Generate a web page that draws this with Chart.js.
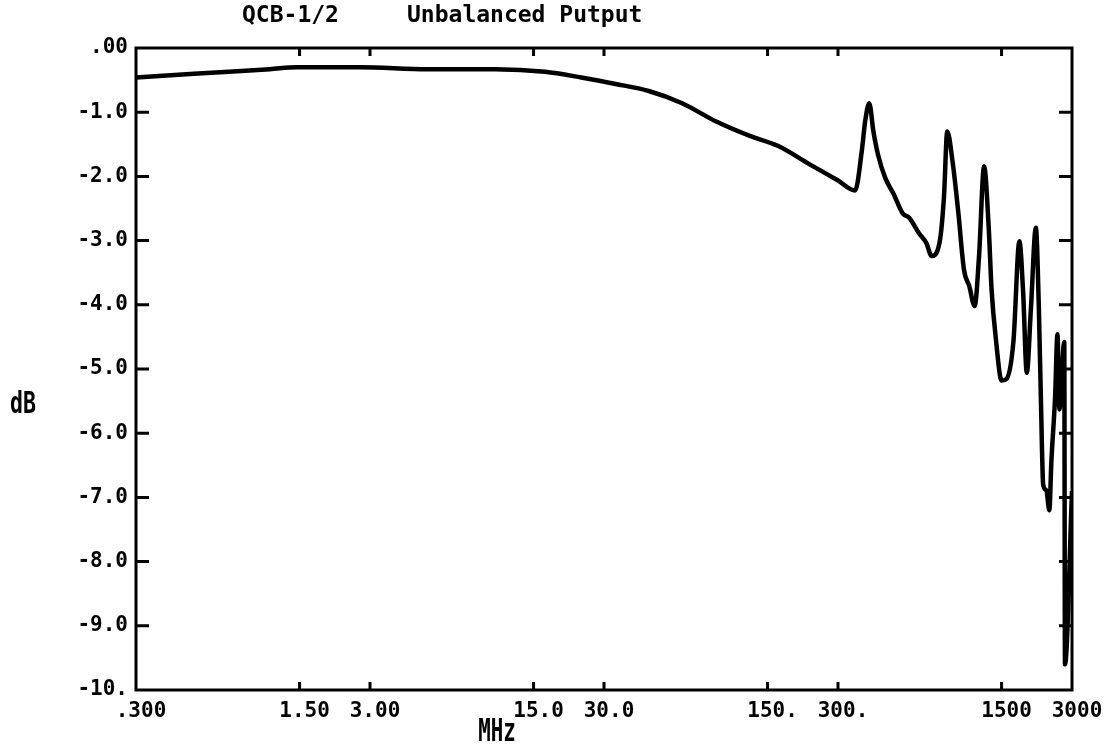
<!DOCTYPE html>
<html>
<head>
<meta charset="utf-8">
<title>QCB-1/2 Unbalanced Putput</title>
<script src="https://cdn.jsdelivr.net/npm/chart.js@4.4.1/dist/chart.umd.min.js"></script>
<style>
  html, body { margin: 0; padding: 0; background: #fff; }
  #wrap { width: 1115px; height: 746px; position: relative; }
</style>
</head>
<body>
<div id="wrap"><canvas id="chart"></canvas></div>
<script>
// swept response
const freqMHz = [0.3, 0.53, 1.12, 1.46, 2.72, 5.3, 10.3, 16.8, 24, 33.6, 46.6, 64.7, 91, 126, 165, 229, 299,
  355, 379, 392, 408, 425, 444, 477, 518, 568, 603, 667, 716, 754, 815, 851, 879, 927, 980,
  1036, 1092, 1151, 1202, 1263, 1323, 1359, 1422, 1500, 1578, 1686, 1788, 1854, 1923, 2003,
  2102, 2165, 2213, 2259, 2330, 2400, 2450, 2540, 2600, 2650, 2780, 2800, 3000];
const lossDb = [-0.46, -0.40, -0.33, -0.30, -0.30, -0.33, -0.33, -0.37, -0.46, -0.56, -0.67, -0.86, -1.15, -1.37, -1.52, -1.82, -2.06,
  -2.22, -1.61, -1.14, -0.86, -1.30, -1.65, -2.02, -2.27, -2.58, -2.64, -2.89, -3.04, -3.24, -3.03, -2.32, -1.30, -1.78, -2.56,
  -3.45, -3.71, -4.02, -3.24, -1.84, -2.82, -3.75, -4.57, -5.18, -5.15, -4.57, -3.01, -3.79, -5.06, -4.05,
  -2.80, -4.05, -5.60, -6.80, -6.89, -7.20, -6.43, -5.44, -4.46, -5.63, -4.58, -9.60, -6.90];

const xTickValues = [0.3, 1.5, 3, 15, 30, 150, 300, 1500, 3000];
const xTickLabels = ['.300', '1.50', '3.00', '15.0', '30.0', '150.', '300.', '1500', '3000'];
const yTickValues = [0, -1, -2, -3, -4, -5, -6, -7, -8, -9, -10];
const yTickLabels = ['.00', '-1.0', '-2.0', '-3.0', '-4.0', '-5.0', '-6.0', '-7.0', '-8.0', '-9.0', '-10.'];

const titleLeft = 'QCB-1/2';
const titleRight = 'Unbalanced Putput';
const xTitle = 'MHz';
const yTitle = 'dB';

const ink = '#000';
const mono = '"DejaVu Sans Mono", "Liberation Mono", monospace';

function plotText(ctx, text, x, y, size, sx, align) {
  ctx.save();
  ctx.translate(x, y);
  ctx.scale(sx, 1);
  ctx.font = 'bold ' + size + 'px ' + mono;
  ctx.fillStyle = ink;
  ctx.textAlign = align || 'left';
  ctx.textBaseline = 'alphabetic';
  ctx.fillText(text, 0, 0);
  ctx.restore();
}

// box frame, inward ticks and the loose plotter captions
const plotterFrame = {
  id: 'plotterFrame',
  afterDraw(chart) {
    const { ctx, chartArea: a, scales } = chart;
    ctx.save();
    ctx.strokeStyle = ink;
    ctx.lineWidth = 3;
    ctx.strokeRect(a.left, a.top, a.right - a.left, a.bottom - a.top);

    ctx.beginPath();
    xTickValues.forEach(v => {
      if (v === 0.3 || v === 3000) return;
      const px = scales.x.getPixelForValue(v);
      ctx.moveTo(px, a.bottom); ctx.lineTo(px, a.bottom - 8);
      ctx.moveTo(px, a.top); ctx.lineTo(px, a.top + 8);
    });
    yTickValues.forEach(v => {
      if (v === 0 || v === -10) return;
      const py = scales.y.getPixelForValue(v);
      ctx.moveTo(a.left, py); ctx.lineTo(a.left + 13, py);
      ctx.moveTo(a.right, py); ctx.lineTo(a.right - 13, py);
    });
    ctx.stroke();
    ctx.restore();

    plotText(ctx, titleLeft, 242, 22, 23, 1);
    plotText(ctx, titleRight, 407, 22, 23, 1);
    plotText(ctx, yTitle, 10, 413, 30, 0.72);
    plotText(ctx, xTitle, 497, 741, 32, 0.65, 'center');
  }
};

const ctx = document.getElementById('chart');

new Chart(ctx, {
  type: 'line',
  data: {
    datasets: [{
      data: freqMHz.map((f, i) => ({ x: f, y: lossDb[i] })),
      borderColor: ink,
      borderWidth: 4.5,
      pointRadius: 0,
      cubicInterpolationMode: 'monotone',
      fill: false
    }]
  },
  options: {
    responsive: true,
    maintainAspectRatio: false,
    animation: false,
    layout: { padding: { top: 48, right: 43, bottom: 0, left: 0 } },
    plugins: {
      legend: { display: false },
      tooltip: { enabled: false },
      title: { display: false }
    },
    scales: {
      x: {
        type: 'logarithmic',
        min: 0.3,
        max: 3000,
        afterBuildTicks: s => { s.ticks = xTickValues.map(v => ({ value: v })); },
        afterFit: s => { s.height = 56; },
        grid: { display: false },
        border: { display: false },
        ticks: {
          autoSkip: false,
          maxRotation: 0,
          padding: 1,
          labelOffset: 5,
          color: ink,
          font: { family: mono, size: 21, weight: 'bold' },
          callback: (v, i) => xTickLabels[i]
        }
      },
      y: {
        type: 'linear',
        min: -10,
        max: 0,
        afterBuildTicks: s => { s.ticks = yTickValues.map(v => ({ value: v })); },
        afterFit: s => { s.width = 136; },
        grid: { display: false },
        border: { display: false },
        ticks: {
          autoSkip: false,
          padding: 0,
          color: ink,
          font: { family: mono, size: 21, weight: 'bold' },
          callback: (v, i) => yTickLabels[i]
        }
      }
    }
  },
  plugins: [plotterFrame]
});
</script>
</body>
</html>
